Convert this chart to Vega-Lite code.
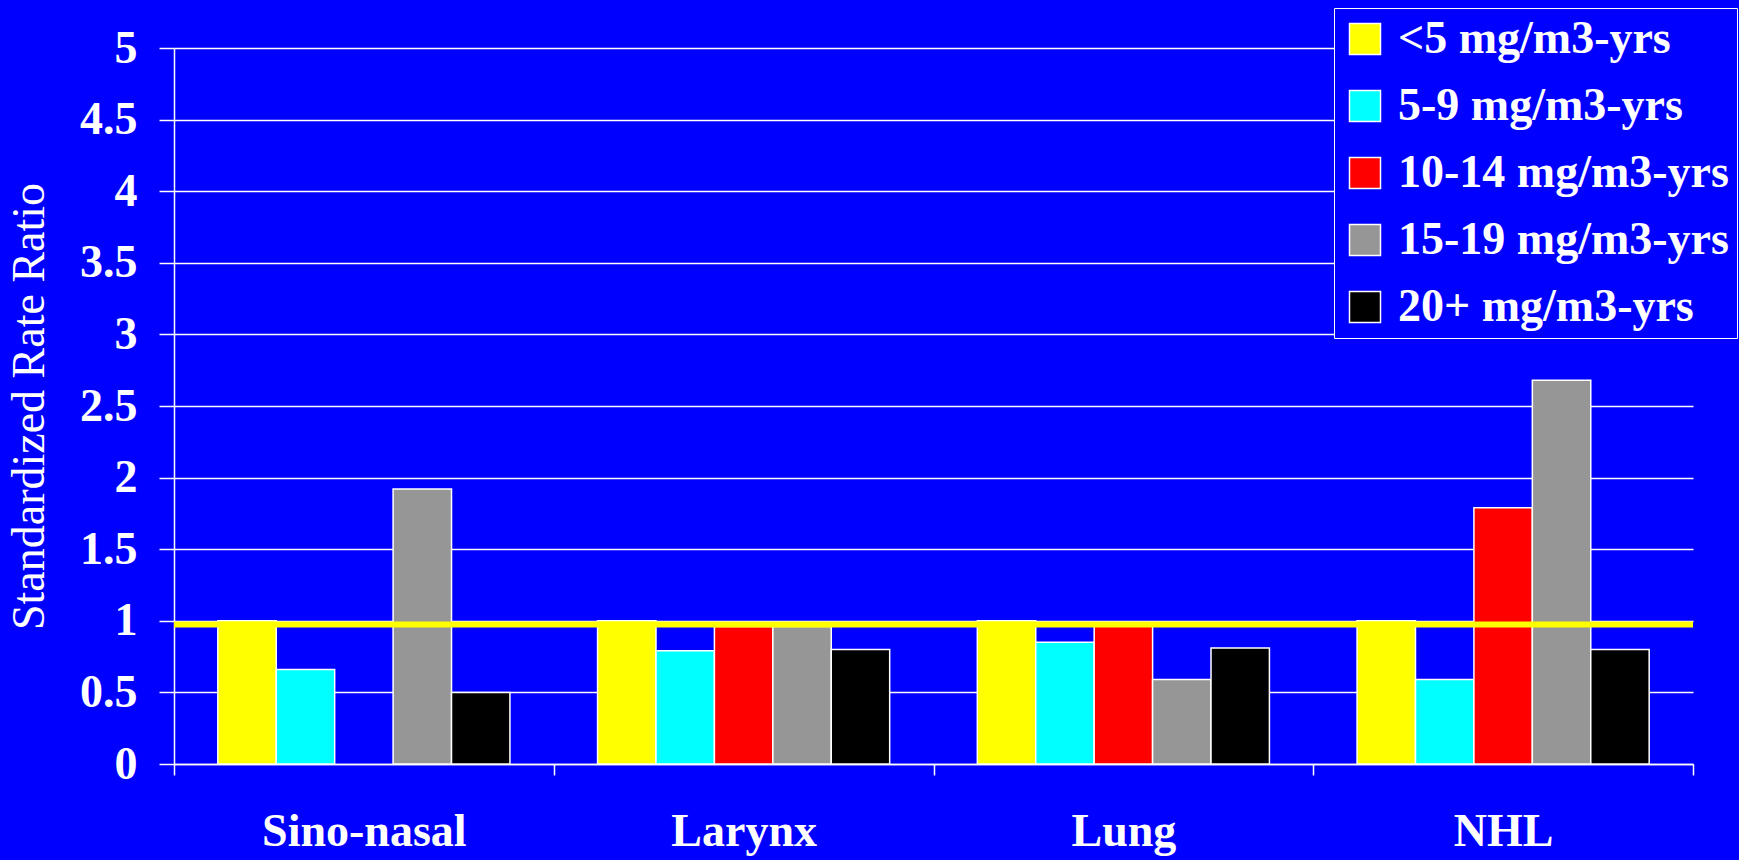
{
  "$schema": "https://vega.github.io/schema/vega-lite/v6.json",
  "width": 1519,
  "height": 716,
  "autosize": {"type": "none"},
  "padding": {"left": 174, "top": 48, "right": 46, "bottom": 96},
  "background": "#0000FF",
  "config": {
    "view": {"stroke": null},
    "font": "Liberation Serif"
  },
  "datasets": {
    "bars": [
      {"site": "Sino-nasal", "exposure": "<5 mg/m3-yrs", "srr": 1.0},
      {"site": "Sino-nasal", "exposure": "5-9 mg/m3-yrs", "srr": 0.66},
      {"site": "Sino-nasal", "exposure": "15-19 mg/m3-yrs", "srr": 1.92},
      {"site": "Sino-nasal", "exposure": "20+ mg/m3-yrs", "srr": 0.5},
      {"site": "Larynx", "exposure": "<5 mg/m3-yrs", "srr": 1.0},
      {"site": "Larynx", "exposure": "5-9 mg/m3-yrs", "srr": 0.79},
      {"site": "Larynx", "exposure": "10-14 mg/m3-yrs", "srr": 0.96},
      {"site": "Larynx", "exposure": "15-19 mg/m3-yrs", "srr": 0.96},
      {"site": "Larynx", "exposure": "20+ mg/m3-yrs", "srr": 0.8},
      {"site": "Lung", "exposure": "<5 mg/m3-yrs", "srr": 1.0},
      {"site": "Lung", "exposure": "5-9 mg/m3-yrs", "srr": 0.85},
      {"site": "Lung", "exposure": "10-14 mg/m3-yrs", "srr": 0.97},
      {"site": "Lung", "exposure": "15-19 mg/m3-yrs", "srr": 0.59},
      {"site": "Lung", "exposure": "20+ mg/m3-yrs", "srr": 0.81},
      {"site": "NHL", "exposure": "<5 mg/m3-yrs", "srr": 1.0},
      {"site": "NHL", "exposure": "5-9 mg/m3-yrs", "srr": 0.59},
      {"site": "NHL", "exposure": "10-14 mg/m3-yrs", "srr": 1.79},
      {"site": "NHL", "exposure": "15-19 mg/m3-yrs", "srr": 2.68},
      {"site": "NHL", "exposure": "20+ mg/m3-yrs", "srr": 0.8}
    ],
    "ref": [{"level": 0.975}]
  },
  "layer": [
    {
      "data": {"name": "bars"},
      "mark": {"type": "bar", "stroke": "#FFFFFF", "strokeWidth": 1.5},
      "encoding": {
        "x": {
          "field": "site",
          "type": "nominal",
          "sort": ["Sino-nasal", "Larynx", "Lung", "NHL"],
          "scale": {"paddingInner": 0, "paddingOuter": 0},
          "axis": {
            "title": null,
            "labelAngle": 0,
            "labelColor": "#FFFFFF",
            "labelFont": "Liberation Serif",
            "labelFontWeight": "bold",
            "labelFontSize": 46,
            "labelPadding": 34,
            "labelLimit": 400,
            "tickBand": "extent",
            "tickColor": "#FFFFFF",
            "tickSize": 11,
            "tickWidth": 1.5,
            "domainColor": "#FFFFFF",
            "domainWidth": 1.5,
            "grid": false
          }
        },
        "xOffset": {
          "field": "exposure",
          "type": "nominal",
          "scale": {
            "domain": ["<5 mg/m3-yrs", "5-9 mg/m3-yrs", "10-14 mg/m3-yrs", "15-19 mg/m3-yrs", "20+ mg/m3-yrs"],
            "paddingInner": 0,
            "paddingOuter": 0.75
          }
        },
        "y": {
          "field": "srr",
          "type": "quantitative",
          "scale": {"domain": [0, 5], "nice": false},
          "axis": {
            "title": "Standardized Rate Ratio",
            "titleColor": "#FFFFFF",
            "titleFont": "Liberation Serif",
            "titleFontWeight": "normal",
            "titleFontSize": 46,
            "titlePadding": 26,
            "values": [0, 0.5, 1, 1.5, 2, 2.5, 3, 3.5, 4, 4.5, 5],
            "format": "~g",
            "labelColor": "#FFFFFF",
            "labelFont": "Liberation Serif",
            "labelFontWeight": "bold",
            "labelFontSize": 46,
            "labelPadding": 22,
            "tickColor": "#FFFFFF",
            "tickSize": 15,
            "tickWidth": 1.5,
            "domainColor": "#FFFFFF",
            "domainWidth": 1.5,
            "grid": true,
            "gridColor": "#FFFFFF",
            "gridWidth": 1.5
          }
        },
        "color": {
          "field": "exposure",
          "type": "nominal",
          "scale": {
            "domain": ["<5 mg/m3-yrs", "5-9 mg/m3-yrs", "10-14 mg/m3-yrs", "15-19 mg/m3-yrs", "20+ mg/m3-yrs"],
            "range": ["#FFFF00", "#00FFFF", "#FF0000", "#969696", "#000000"]
          },
          "legend": {
            "title": null,
            "orient": "none",
            "legendX": 1160,
            "legendY": -40,
            "fillColor": "#0000FF",
            "strokeColor": "#FFFFFF",
            "padding": 8,
            "rowPadding": 21,
            "symbolType": "square",
            "symbolSize": 961,
            "symbolStrokeColor": "#FFFFFF",
            "symbolStrokeWidth": 1.5,
            "symbolOpacity": 1,
            "labelColor": "#FFFFFF",
            "labelFont": "Liberation Serif",
            "labelFontWeight": "bold",
            "labelFontSize": 46,
            "labelOffset": 10,
            "labelLimit": 400
          }
        }
      }
    },
    {
      "data": {"name": "ref"},
      "mark": {"type": "rule", "color": "#FFFF00", "strokeWidth": 6},
      "encoding": {
        "y": {"field": "level", "type": "quantitative"}
      }
    }
  ]
}
